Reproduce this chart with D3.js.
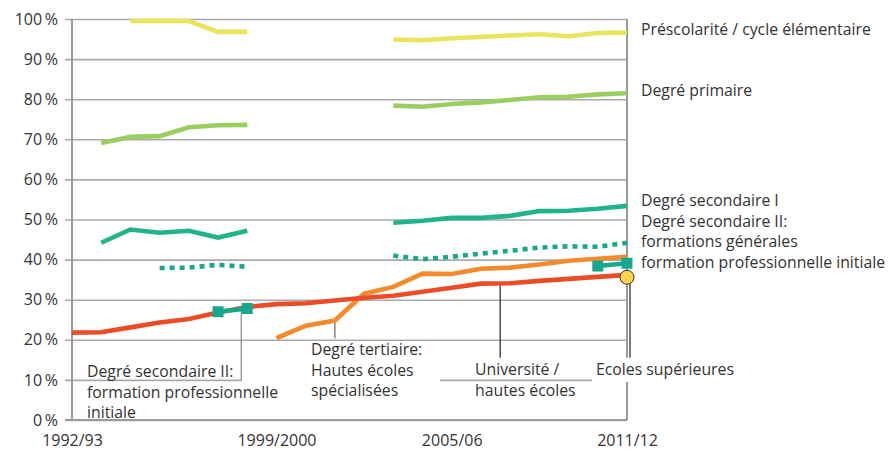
<!DOCTYPE html>
<html>
<head>
<meta charset="utf-8">
<script src="https://cdn.jsdelivr.net/npm/d3@7"></script>
<style>
body { margin: 0; background: #fff; }
text { font-family: "Open Sans", sans-serif; fill: #333; }
</style>
</head>
<body>
<svg width="890" height="454"></svg>
<script>
// school years, one point each
var years = ["1992/93", "1993/94", "1994/95", "1995/96", "1996/97", "1997/98", "1998/99",
  "1999/2000", "2000/01", "2001/02", "2002/03", "2003/04", "2004/05", "2005/06",
  "2006/07", "2007/08", "2008/09", "2009/10", "2010/11", "2011/12"];
var xTickYears = ["1992/93", "1999/2000", "2005/06", "2011/12"];
var yTicks = [0, 10, 20, 30, 40, 50, 60, 70, 80, 90, 100];

// share in %, null = no data
var prescolaire = [null, null, 99.5, 99.5, 99.5, 96.8, 96.8, null, null, null, null,
  94.9, 94.7, 95.2, 95.5, 95.9, 96.2, 95.7, 96.5, 96.6];
var primaire = [null, 69.1, 70.6, 70.8, 73.0, 73.5, 73.6, null, null, null, null,
  78.4, 78.1, 78.8, 79.2, 79.8, 80.5, 80.6, 81.2, 81.5];
var secondaireI = [null, 44.2, 47.5, 46.7, 47.2, 45.5, 47.2, null, null, null, null,
  49.2, 49.7, 50.4, 50.4, 50.9, 52.1, 52.2, 52.7, 53.4];
var secIIgen = [null, null, null, 37.9, 38.0, 38.7, 38.2, null, null, null, null,
  41.0, 40.1, 40.7, 41.5, 42.2, 43.0, 43.3, 43.2, 44.2];
var secIIpro = [null, null, null, null, null, 27.0, 27.8, null, null, null, null,
  null, null, null, null, null, null, null, 38.4, 39.1];
var hes = [null, null, null, null, null, null, null, 20.4, 23.5, 24.8, 31.5,
  33.2, 36.5, 36.4, 37.7, 38.0, 38.8, 39.7, 40.2, 40.7];
var universite = [21.8, 21.9, 23.1, 24.3, 25.2, 26.8, 28.2, 28.9, 29.1, 29.8, 30.5,
  31.0, 32.0, 33.0, 34.0, 34.1, 34.7, 35.2, 35.7, 36.2];
var ecolesSup = [null, null, null, null, null, null, null, null, null, null, null,
  null, null, null, null, null, null, null, null, 35.6];

var svg = d3.select("svg"),
  margin = {top: 19, left: 72},
  width = 555,
  height = 401;

var x = d3.scalePoint().domain(years).range([0, width]),
  y = d3.scaleLinear().domain([0, 100]).range([height, 0]);

var g = svg.append("g").attr("transform", "translate(" + margin.left + "," + margin.top + ")");

// grid lines + small outer ticks
g.append("g")
  .attr("transform", "translate(-7,0)")
  .call(d3.axisRight(y).tickValues(yTicks).tickSize(width + 7).tickFormat(""))
  .call(function (a) {
    a.select(".domain").remove();
    a.selectAll("line").attr("stroke", "#aaa").attr("stroke-width", 1.6);
  });

// y labels
g.append("g")
  .call(d3.axisLeft(y).tickValues(yTicks).tickSize(0).tickPadding(14)
    .tickFormat(function (d) { return d + "\u2009%"; }))
  .call(function (a) {
    a.select(".domain").remove();
    a.selectAll("text").attr("font-size", "16px").attr("font-family", "Open Sans").attr("fill", "#333");
  });

// x labels
g.append("g")
  .attr("transform", "translate(0," + height + ")")
  .call(d3.axisBottom(x).tickValues(xTickYears).tickSize(0).tickPadding(15))
  .call(function (a) {
    a.select(".domain").remove();
    a.selectAll("text").attr("font-size", "16px").attr("font-family", "Open Sans").attr("fill", "#333");
  });

// white patches behind the bottom labels
var patches = [
  {x0: 242, x1: 440, y0: 344, y1: 402},
  {x0: 592, x1: 740, y0: 360, y1: 382}
];
svg.selectAll(".patch").data(patches).enter().append("rect")
  .attr("x", function (d) { return d.x0; })
  .attr("y", function (d) { return d.y0; })
  .attr("width", function (d) { return d.x1 - d.x0; })
  .attr("height", function (d) { return d.y1 - d.y0; })
  .attr("fill", "#fff");

// frame
g.append("line").attr("x1", 0).attr("x2", 0).attr("y1", 0).attr("y2", height)
  .attr("stroke", "#999").attr("stroke-width", 2);
g.append("line").attr("x1", -7).attr("x2", width).attr("y1", height).attr("y2", height)
  .attr("stroke", "#999").attr("stroke-width", 2);
g.append("line").attr("x1", width).attr("x2", width).attr("y1", 0).attr("y2", y(15.5))
  .attr("stroke", "#999").attr("stroke-width", 2);
g.append("line").attr("x1", width).attr("x2", width).attr("y1", y(10)).attr("y2", height)
  .attr("stroke", "#999").attr("stroke-width", 2);

// leader lines
var leaders = [
  {xi: 6, dx: -6, v0: 27.8, v1: 10, color: "#888"},
  {xi: 9, dx: 0, v0: 24.8, v1: 20.4, color: "#666"},
  {xi: 15, dx: -10, v0: 34.1, v1: 15.5, color: "#222"},
  {xi: 19, dx: 3, v0: 35.6, v1: 15.5, color: "#222"}
];
g.selectAll(".leader").data(leaders).enter().append("line")
  .attr("x1", function (d) { return x(years[d.xi]) + d.dx; })
  .attr("x2", function (d) { return x(years[d.xi]) + d.dx; })
  .attr("y1", function (d) { return y(d.v0); })
  .attr("y2", function (d) { return y(d.v1); })
  .attr("stroke", function (d) { return d.color; })
  .attr("stroke-width", 1.2);

var line = d3.line()
  .defined(function (d) { return d != null; })
  .x(function (d, i) { return x(years[i]); })
  .y(function (d) { return y(d); });

var series = [
  {values: prescolaire, color: "#e8e55c", dash: null},
  {values: primaire, color: "#9ccd60", dash: null},
  {values: secondaireI, color: "#20b48a", dash: null},
  {values: secIIgen, color: "#18a88f", dash: "5,5"},
  {values: hes, color: "#f58a2c", dash: null},
  {values: universite, color: "#eb4c25", dash: null},
  {values: secIIpro, color: "#14a88f", dash: null}
];

g.selectAll(".series").data(series).enter().append("path")
  .attr("class", "series")
  .attr("d", function (d) { return line(d.values); })
  .attr("fill", "none")
  .attr("stroke", function (d) { return d.color; })
  .attr("stroke-width", 4.6)
  .attr("stroke-dasharray", function (d) { return d.dash; });

// square markers for secondary II vocational
var proPoints = [];
secIIpro.forEach(function (v, i) { if (v != null) proPoints.push({i: i, v: v}); });
g.selectAll(".sq").data(proPoints).enter().append("rect")
  .attr("x", function (d) { return x(years[d.i]) - 5.5; })
  .attr("y", function (d) { return y(d.v) - 5.5; })
  .attr("width", 11).attr("height", 11)
  .attr("fill", "#14a88f");

// circle for écoles supérieures
var supPoints = [];
ecolesSup.forEach(function (v, i) { if (v != null) supPoints.push({i: i, v: v}); });
g.selectAll(".dot").data(supPoints).enter().append("circle")
  .attr("cx", function (d) { return x(years[d.i]); })
  .attr("cy", function (d) { return y(d.v); })
  .attr("r", 7)
  .attr("fill", "#fcd34b")
  .attr("stroke", "#333")
  .attr("stroke-width", 1);

// labels
var labels = [
  {x: 641, y: 35, lines: ["Préscolarité / cycle élémentaire"]},
  {x: 641, y: 96, lines: ["Degré primaire"]},
  {x: 641, y: 206, lines: ["Degré secondaire I", "Degré secondaire II:", "formations générales", "formation professionnelle initiale"]},
  {x: 87, y: 377, lines: ["Degré secondaire II:", "formation professionnelle", "initiale"]},
  {x: 311, y: 355, lines: ["Degré tertiaire:", "Hautes écoles", "spécialisées"]},
  {x: 475, y: 375, lines: ["Université /", "hautes écoles"]},
  {x: 596, y: 375, lines: ["Ecoles supérieures"]}
];
labels.forEach(function (l) {
  var t = svg.append("text").attr("x", l.x).attr("y", l.y).attr("font-size", "15.8px");
  l.lines.forEach(function (s, k) {
    t.append("tspan").attr("x", l.x).attr("dy", k === 0 ? 0 : 20.5).text(s);
  });
});
</script>
</body>
</html>
